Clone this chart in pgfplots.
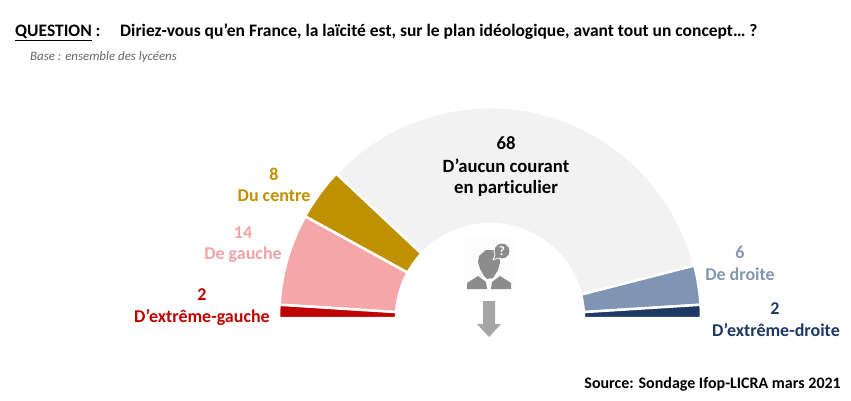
\documentclass[border=0pt]{standalone}
\usepackage{pgfplots}
\pgfplotsset{compat=1.18}
\usepackage{fontspec}
\setmainfont{Carlito}[Ligatures=NoCommon]
\definecolor{cRed}{HTML}{C00000}
\definecolor{cPink}{HTML}{F4A6A8}
\definecolor{cGold}{HTML}{BF9000}
\definecolor{cGrey}{HTML}{F2F2F2}
\definecolor{cBlue}{HTML}{8095B3}
\definecolor{cNavy}{HTML}{1F3864}
\definecolor{cIcon}{HTML}{8C8C8C}
\definecolor{cArrow}{HTML}{A6A6A6}
\definecolor{tPink}{HTML}{F2A3A5}
\definecolor{tBlue}{HTML}{8497B0}
\definecolor{cHalo}{HTML}{FDFDFD}
\begin{document}
\begin{tikzpicture}
\path[use as bounding box] (0,0) rectangle (851pt,400pt);
\begin{axis}[
  scale only axis, width=851pt, height=400pt,
  xmin=-490, xmax=361, ymin=-82, ymax=318,
  hide axis, clip=false,
  every axis plot/.append style={line join=round}
]
% --- slices: (angle, radius); spans are the values x 1.8 degrees
\addplot[data cs=polar, fill=cGrey, draw=white, line width=2.5pt] coordinates {
(136.8,211)(130,211)(125,211)(120,211)(115,211)(110,211)(105,211)(100,211)(95,211)(90,211)(85,211)(80,211)(75,211)(70,211)(65,211)(60,211)(55,211)(50,211)(45,211)(40,211)(35,211)(30,211)(25,211)(20,211)(14.4,211)
(14.4,94)(20,94)(25,94)(30,94)(35,94)(40,94)(45,94)(50,94)(55,94)(60,94)(65,94)(70,94)(75,94)(80,94)(85,94)(90,94)(95,94)(100,94)(105,94)(110,94)(115,94)(120,94)(125,94)(130,94)(136.8,94)} -- cycle;
\addplot[data cs=polar, fill=cGold, draw=white, line width=2.5pt] coordinates {
(151.2,211)(148,211)(144,211)(140,211)(136.8,211)(136.8,94)(140,94)(144,94)(148,94)(151.2,94)} -- cycle;
\addplot[data cs=polar, fill=cPink, draw=white, line width=2.5pt] coordinates {
(176.4,211)(172,211)(168,211)(164,211)(160,211)(156,211)(151.2,211)(151.2,94)(156,94)(160,94)(164,94)(168,94)(172,94)(176.4,94)} -- cycle;
\addplot[data cs=polar, fill=cRed, draw=white, line width=2.5pt] coordinates {
(180,211)(178,211)(176.4,211)(176.4,94)(178,94)(180,94)} -- cycle;
\addplot[data cs=polar, fill=cBlue, draw=white, line width=2.5pt] coordinates {
(14.4,211)(11,211)(7,211)(3.6,211)(3.6,94)(7,94)(11,94)(14.4,94)} -- cycle;
\addplot[data cs=polar, fill=cNavy, draw=white, line width=2.5pt] coordinates {
(3.6,211)(2,211)(0,211)(0,94)(2,94)(3.6,94)} -- cycle;
% --- person icon
\addplot[fill=cHalo, draw=none] coordinates {(-26,25)(24,25)(24,80)(-26,80)} -- cycle;
\addplot[fill=cIcon, draw=none] coordinates {(-23,29)(-23,35)(-12,42)(-4,36)(-3,29)} -- cycle;
\addplot[fill=cIcon, draw=none] coordinates {(1,29)(2,36)(10,42)(21,35)(21,29)} -- cycle;
\addplot[fill=cIcon, draw=none] coordinates {(-4,68)(5,68)(9,64)(10,56)(8,48)(3,40)(-3,39)(-6,42)(-10,49)(-12,56)(-11,62)} -- cycle;
\addplot[fill=cIcon, draw=white, line width=0.8pt] coordinates {(20,67)(19,71)(16,74)(12,75)(8,74)(5,71)(4,67)(5,63)(3,58)(8,60)(12,59)(16,60)(19,63)} -- cycle;
\addplot[fill=cArrow, draw=none] coordinates {(-7,17)(5,17)(5,-6)(11,-6)(-1,-19)(-13,-6)(-7,-6)} -- cycle;
\node[text=white, font=\bfseries\fontsize{13}{13}\selectfont] at (axis cs:12,67) {?};
% --- labels
\def\lab#1#2#3#4{\node[text=#1, font=\bfseries\fontsize{18}{18}\selectfont, inner sep=0pt] at (axis cs:#2,#3) {#4};}
\def\labb#1#2#3#4{\node[text=#1, font=\bfseries\fontsize{18.7}{18.7}\selectfont, inner sep=0pt] at (axis cs:#2,#3) {#4};}
\labb{black}{16}{175}{68}
\labb{black}{16}{152}{D’aucun courant}
\labb{black}{16}{130}{en particulier}
\lab{cGold}{-216}{144}{8}
\lab{cGold}{-216}{122}{Du centre}
\lab{tPink}{-247}{85}{14}
\lab{tPink}{-247}{63}{De gauche}
\lab{cRed}{-288}{23}{2}
\lab{cRed}{-288}{1}{D’extrême-gauche}
\lab{tBlue}{250}{66}{6}
\lab{tBlue}{250}{44}{De droite}
\lab{cNavy}{285}{9}{2}
\lab{cNavy}{286}{-12}{D’extrême-droite}
% --- header and source
\node[anchor=base west, inner sep=0pt, font=\bfseries\fontsize{17.5}{17.5}\selectfont] at (axis cs:-475,281) {\underline{QUESTION} :};
\node[anchor=base west, inner sep=0pt, font=\bfseries\fontsize{17.5}{17.5}\selectfont] at (axis cs:-370,281) {Diriez-vous qu’en France, la laïcité est, sur le plan idéologique, avant tout un concept… ?};
\node[anchor=base west, inner sep=0pt, text=black!60, font=\itshape\fontsize{12.9}{12.9}\selectfont] at (axis cs:-460,257) {Base : ensemble des lycéens};
\node[anchor=base east, inner sep=0pt, font=\bfseries\fontsize{16}{16}\selectfont] at (axis cs:351,-70) {Source: Sondage Ifop-LICRA mars 2021};
\end{axis}
\end{tikzpicture}
\end{document}
